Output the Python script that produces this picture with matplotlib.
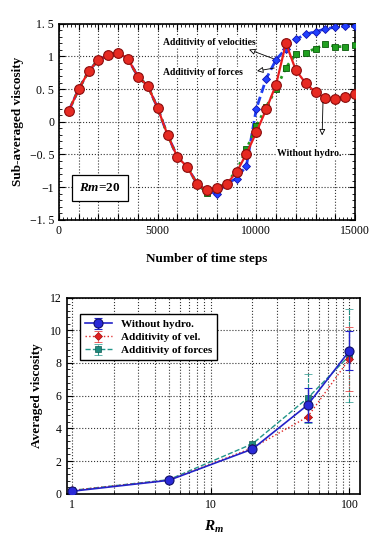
import numpy as np
import matplotlib
matplotlib.use("Agg")
import matplotlib.pyplot as plt
from matplotlib.ticker import MultipleLocator, FixedLocator, FixedFormatter, LogLocator, NullFormatter

plt.rcParams['font.family'] = ['Liberation Serif', 'DejaVu Serif']
plt.rcParams['mathtext.fontset'] = 'custom'
plt.rcParams['mathtext.it'] = 'Liberation Serif:italic:bold'
plt.rcParams['mathtext.rm'] = 'Liberation Serif:bold'

# ---- top panel data (Rm = 20) ----
steps = np.arange(500, 15001, 500)
without_hydro = [0.17, 0.50, 0.77, 0.95, 1.02, 1.06, 0.96, 0.69, 0.55, 0.21,
                 -0.20, -0.54, -0.69, -0.95, -1.05, -1.01, -0.95, -0.77, -0.49, -0.16,
                 0.19, 0.57, 1.20, 0.79, 0.59, 0.45, 0.36, 0.35, 0.38, 0.42]
add_vel = [0.17, 0.50, 0.77, 0.95, 1.02, 1.06, 0.96, 0.69, 0.55, 0.21,
           -0.20, -0.54, -0.69, -0.95, -1.06, -1.10, -0.94, -0.87, -0.67, 0.20,
           0.66, 0.95, 1.12, 1.26, 1.34, 1.38, 1.42, 1.45, 1.46, 1.47]
add_force = [0.17, 0.50, 0.77, 0.95, 1.02, 1.06, 0.96, 0.69, 0.55, 0.21,
             -0.20, -0.54, -0.69, -0.95, -1.09, -1.03, -0.93, -0.75, -0.42, -0.07,
             0.23, 0.50, 0.83, 1.03, 1.06, 1.12, 1.19, 1.15, 1.15, 1.17]

# ---- bottom panel data ----
rm = [1, 5, 20, 50, 100]
avg_without = [0.15, 0.82, 2.73, 5.43, 8.74]
err_without = [0.0, 0.0, 0.0, 1.05, 1.2]
avg_vel = [0.2, 0.84, 2.8, 4.7, 8.25]
err_vel = [0.0, 0.0, 0.0, 0.0, 1.95]
avg_force = [0.2, 0.86, 3.05, 5.85, 8.45]
err_force = [0.0, 0.0, 0.0, 1.5, 2.85]

fig = plt.figure(figsize=(3.88, 5.40), dpi=100)

# ================= top =================
ax = fig.add_axes([0.152, 0.593, 0.763, 0.363])
ax.plot(steps, add_vel, color='#1f3df0', ls=(0, (3, 1.5)), lw=2.0,
        marker='D', ms=4.5, mfc='#2040ff', mec='#1010b0', mew=0.6, zorder=3)
ax.plot(steps, add_force, color='#1f9a1f', ls=':', lw=2.0,
        marker='s', ms=4.5, mfc='#20a020', mec='#0a5a0a', mew=0.6, zorder=3)
ax.plot(steps, without_hydro, color='#e81e1e', ls='-', lw=1.6,
        marker='o', ms=7, mfc='#e62a22', mec='#8a0c0c', mew=0.8, zorder=4)

ax.set_xlim(0, 15000)
ax.set_ylim(-1.5, 1.5)
ax.xaxis.set_major_locator(MultipleLocator(1000))
ax.xaxis.set_major_formatter(plt.FuncFormatter(lambda v, p: '%d' % v if v % 5000 == 0 else ''))
ax.xaxis.set_minor_locator(MultipleLocator(200))
yt = [-1.5, -1, -0.5, 0, 0.5, 1, 1.5]
ax.yaxis.set_major_locator(FixedLocator(yt))
ax.yaxis.set_major_formatter(FixedFormatter(['\u22121. 5', '\u22121', '\u22120. 5', '0', '0. 5', '1', '1. 5']))
ax.yaxis.set_minor_locator(MultipleLocator(0.1))
ax.tick_params(which='both', direction='in', top=True, right=True, labelsize=8.5)
ax.tick_params(which='major', length=4, width=0.8)
ax.tick_params(which='minor', length=2.5, width=0.6)
ax.grid(True, which='major', ls=':', color='#333333', lw=0.8)
for s in ax.spines.values():
    s.set_linewidth(1.2)
ax.set_xlabel('Number of time steps', fontsize=9.5, fontweight='bold', labelpad=12)
ax.set_ylabel('Sub-averaged viscosity', fontsize=9.5, fontweight='bold', labelpad=4)

arrow = dict(arrowstyle='-|>', fc='white', ec='black', lw=0.6, mutation_scale=9)
bb = dict(boxstyle='square,pad=0.1', fc='white', ec='none')
ax.text(7600, 1.21, 'Additivity of velocities', fontsize=7, fontweight='bold',
        ha='center', va='center', bbox=bb, zorder=5)
ax.annotate('', xy=(9500, 1.12), xytext=(11000, 0.95), arrowprops=arrow, zorder=6)
ax.text(7300, 0.75, 'Additivity of forces', fontsize=7, fontweight='bold',
        ha='center', va='center', bbox=bb, zorder=5)
ax.annotate('', xy=(9900, 0.77), xytext=(11050, 0.83), arrowprops=arrow, zorder=6)
ax.text(12670, -0.49, 'Without hydro.', fontsize=7, fontweight='bold',
        ha='center', va='center', bbox=bb, zorder=5)
ax.annotate('', xy=(13330, -0.25), xytext=(13380, 0.34), arrowprops=arrow, zorder=6)
ax.text(0.139, 0.163, '$Rm$=20', transform=ax.transAxes, fontsize=9.5, fontweight='bold',
        ha='center', va='center', zorder=6,
        bbox=dict(boxstyle='square,pad=0.55', fc='white', ec='black', lw=0.9))

# ================= bottom =================
bx = fig.add_axes([0.172, 0.0857, 0.757, 0.3633])
bx.set_xscale('log')
l1 = bx.errorbar(rm, avg_without, yerr=err_without, color='#2222c8', ls='-', lw=1.2,
                 marker='o', ms=6.5, mfc='#2a2ad8', mec='#10106a', mew=0.8,
                 capsize=3, elinewidth=1.0, capthick=1.0, zorder=4, label='Without hydro.')
l2 = bx.errorbar(rm, avg_vel, yerr=err_vel, color='#e02828', ls=':', lw=1.0,
                 marker='D', ms=4, mfc='#e02020', mec='#a01010', mew=0.5,
                 capsize=3, elinewidth=0.8, capthick=0.8, zorder=3, label='Additivity of vel.')
l3 = bx.errorbar(rm, avg_force, yerr=err_force, color='#23968a', ls='--', lw=1.0,
                 marker='s', ms=4, mfc='#1f8a7e', mec='#0f5a50', mew=0.5,
                 capsize=3, elinewidth=0.8, capthick=0.8, zorder=2, label='Additivity of forces')
for c in l2[2]:
    c.set_linestyle(':')
for c in l3[2]:
    c.set_linestyle('--')

bx.set_xlim(0.92, 120)
bx.set_ylim(0, 12)
bx.xaxis.set_major_locator(LogLocator(base=10, numticks=5))
bx.xaxis.set_minor_locator(LogLocator(base=10, subs=np.arange(2, 10), numticks=10))
bx.xaxis.set_minor_formatter(NullFormatter())
bx.xaxis.set_major_formatter(plt.FuncFormatter(lambda v, p: '%d' % v))
bx.yaxis.set_major_locator(MultipleLocator(2))
bx.yaxis.set_minor_locator(MultipleLocator(0.4))
bx.tick_params(which='both', direction='in', labelsize=8.5)
bx.tick_params(which='major', length=4, width=0.8)
bx.tick_params(which='minor', length=2.5, width=0.6)
bx.grid(True, which='both', axis='x', ls=':', color='#333333', lw=0.8)
bx.grid(True, which='major', axis='y', ls=':', color='#333333', lw=0.8)
for s in bx.spines.values():
    s.set_linewidth(1.2)
bx.set_xlabel('$R_m$', fontsize=11, labelpad=6)
bx.set_ylabel('Averaged viscosity', fontsize=9.5, fontweight='bold', labelpad=5)
leg = bx.legend(loc='upper left', bbox_to_anchor=(0.045, 0.915), fancybox=False,
                edgecolor='black', framealpha=1, prop={'weight': 'bold', 'size': 8},
                handlelength=2.4, borderaxespad=0, labelspacing=0.3, borderpad=0.45)
leg.get_frame().set_linewidth(1.0)

fig.savefig('out.png', dpi=100)
